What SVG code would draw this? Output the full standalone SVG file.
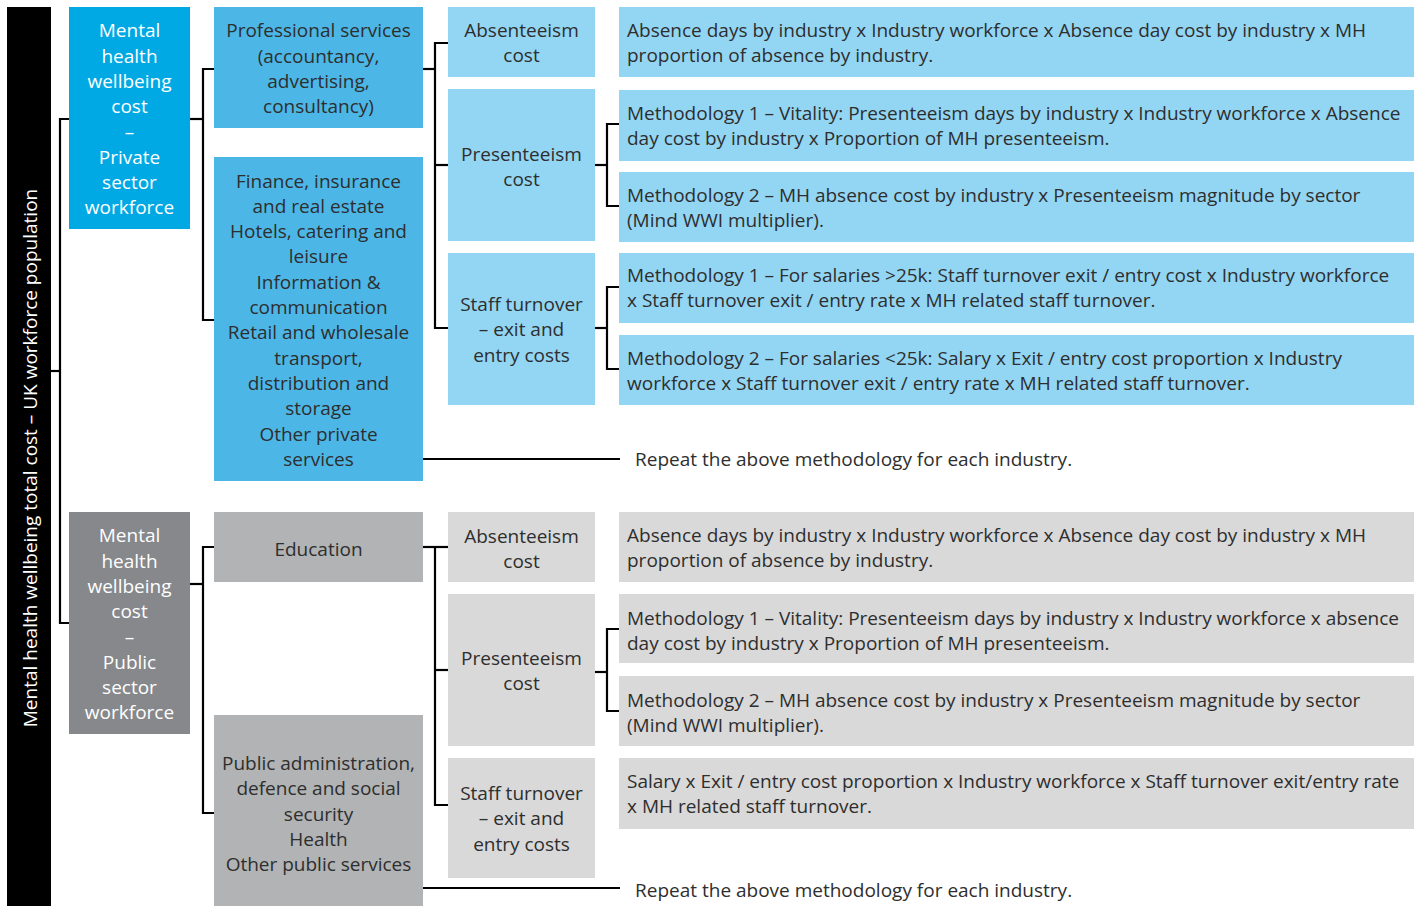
<svg xmlns="http://www.w3.org/2000/svg" width="1419" height="906" viewBox="0 0 1419 906">
  <style>
    text { font-family: "Open Sans", "Noto Sans", "Liberation Sans", sans-serif; font-size: 19px; fill: #2e2e2e; }
    .c { text-anchor: middle; }
    .w { fill: #ffffff; }
    .sector-priv { fill: #00a9e3; }
    .ind-priv { fill: #4cb7e7; }
    .cost-priv { fill: #93d6f4; }
    .sector-pub { fill: #86888b; }
    .ind-pub { fill: #b1b3b4; }
    .cost-pub { fill: #d9d9d9; }
    .conn path { fill: none; stroke: #000000; stroke-width: 2.2; stroke-linejoin: miter; }
  </style>

  <!-- Title bar -->
  <g id="title">
    <rect x="7" y="7" width="44" height="899" fill="#000000"/>
    <text class="c w" transform="translate(36.5,458) rotate(-90)">Mental health wellbeing total cost – UK workforce population</text>
  </g>

  <!-- Connectors -->
  <g class="conn" id="connectors">
    <path d="M51,371 H60"/>
    <path d="M69,119 H60 V623 H69"/>
    <!-- private sector -->
    <path d="M190,119 H203"/>
    <path d="M214,69 H203 V320 H214"/>
    <path d="M423,69 H435"/>
    <path d="M448,43 H435 V328 H448"/>
    <path d="M435,165 H448"/>
    <path d="M595,165 H607"/>
    <path d="M619,124 H607 V206 H619"/>
    <path d="M595,328 H607"/>
    <path d="M619,287 H607 V369 H619"/>
    <path d="M423,459 H620"/>
    <!-- public sector -->
    <path d="M190,584 H203"/>
    <path d="M214,547 H203 V813 H214"/>
    <path d="M423,547 H448"/>
    <path d="M435,547 V805 H448"/>
    <path d="M435,670 H448"/>
    <path d="M595,672 H607"/>
    <path d="M619,629 H607 V711 H619"/>
    <path d="M423,888 H620"/>
  </g>

  <!-- Private sector -->
  <g id="private-sector">
    <rect class="sector-priv" x="69" y="7" width="121" height="222"/>
    <text class="c w" x="129.5" y="37.3">Mental</text>
    <text class="c w" x="129.5" y="62.6">health</text>
    <text class="c w" x="129.5" y="87.9">wellbeing</text>
    <text class="c w" x="129.5" y="113.2">cost</text>
    <text class="c w" x="129.5" y="138.5">–</text>
    <text class="c w" x="129.5" y="163.8">Private</text>
    <text class="c w" x="129.5" y="189.1">sector</text>
    <text class="c w" x="129.5" y="214.4">workforce</text>
  </g>

  <g id="professional-services">
    <rect class="ind-priv" x="214" y="7" width="209" height="121"/>
    <text class="c" x="318.5" y="37.3">Professional services</text>
    <text class="c" x="318.5" y="62.6">(accountancy,</text>
    <text class="c" x="318.5" y="87.9">advertising,</text>
    <text class="c" x="318.5" y="113.2">consultancy)</text>
  </g>

  <g id="other-private-industries">
    <rect class="ind-priv" x="214" y="157" width="209" height="324"/>
    <text class="c" x="318.5" y="187.5">Finance, insurance</text>
    <text class="c" x="318.5" y="212.8">and real estate</text>
    <text class="c" x="318.5" y="238.1">Hotels, catering and</text>
    <text class="c" x="318.5" y="263.4">leisure</text>
    <text class="c" x="318.5" y="288.7">Information &amp;</text>
    <text class="c" x="318.5" y="314">communication</text>
    <text class="c" x="318.5" y="339.3">Retail and wholesale</text>
    <text class="c" x="318.5" y="364.6">transport,</text>
    <text class="c" x="318.5" y="389.9">distribution and</text>
    <text class="c" x="318.5" y="415.2">storage</text>
    <text class="c" x="318.5" y="440.5">Other private</text>
    <text class="c" x="318.5" y="465.8">services</text>
  </g>

  <g id="priv-absenteeism">
    <rect class="cost-priv" x="448" y="7" width="147" height="70"/>
    <text class="c" x="521.5" y="37">Absenteeism</text>
    <text class="c" x="521.5" y="62.3">cost</text>
  </g>
  <g id="priv-presenteeism">
    <rect class="cost-priv" x="448" y="89" width="147" height="152"/>
    <text class="c" x="521.5" y="160.5">Presenteeism</text>
    <text class="c" x="521.5" y="185.8">cost</text>
  </g>
  <g id="priv-turnover">
    <rect class="cost-priv" x="448" y="253" width="147" height="152"/>
    <text class="c" x="521.5" y="311">Staff turnover</text>
    <text class="c" x="521.5" y="336.3">– exit and</text>
    <text class="c" x="521.5" y="361.6">entry costs</text>
  </g>

  <g id="priv-absence-method">
    <rect class="cost-priv" x="619" y="7" width="795" height="70"/>
    <text x="627" y="37">Absence days by industry x Industry workforce x Absence day cost by industry x MH</text>
    <text x="627" y="62.3">proportion of absence by industry.</text>
  </g>
  <g id="priv-presenteeism-m1">
    <rect class="cost-priv" x="619" y="90" width="795" height="71"/>
    <text x="627" y="120">Methodology 1 – Vitality: Presenteeism days by industry x Industry workforce x Absence</text>
    <text x="627" y="145.3">day cost by industry x Proportion of MH presenteeism.</text>
  </g>
  <g id="priv-presenteeism-m2">
    <rect class="cost-priv" x="619" y="172" width="795" height="70"/>
    <text x="627" y="202">Methodology 2 – MH absence cost by industry x Presenteeism magnitude by sector</text>
    <text x="627" y="227.3">(Mind WWI multiplier).</text>
  </g>
  <g id="priv-turnover-m1">
    <rect class="cost-priv" x="619" y="253" width="795" height="70"/>
    <text x="627" y="282">Methodology 1 – For salaries &gt;25k: Staff turnover exit / entry cost x Industry workforce</text>
    <text x="627" y="307.3">x Staff turnover exit / entry rate x MH related staff turnover.</text>
  </g>
  <g id="priv-turnover-m2">
    <rect class="cost-priv" x="619" y="335" width="795" height="70"/>
    <text x="627" y="364.5">Methodology 2 – For salaries &lt;25k: Salary x Exit / entry cost proportion x Industry</text>
    <text x="627" y="389.8">workforce x Staff turnover exit / entry rate x MH related staff turnover.</text>
  </g>
  <g id="priv-repeat">
    <text x="635" y="465.5">Repeat the above methodology for each industry.</text>
  </g>

  <!-- Public sector -->
  <g id="public-sector">
    <rect class="sector-pub" x="69" y="512" width="121" height="222"/>
    <text class="c w" x="129.5" y="542.3">Mental</text>
    <text class="c w" x="129.5" y="567.6">health</text>
    <text class="c w" x="129.5" y="592.9">wellbeing</text>
    <text class="c w" x="129.5" y="618.2">cost</text>
    <text class="c w" x="129.5" y="643.5">–</text>
    <text class="c w" x="129.5" y="668.8">Public</text>
    <text class="c w" x="129.5" y="694.1">sector</text>
    <text class="c w" x="129.5" y="719.4">workforce</text>
  </g>

  <g id="education">
    <rect class="ind-pub" x="214" y="512" width="209" height="70"/>
    <text class="c" x="318.5" y="555.5">Education</text>
  </g>

  <g id="other-public-industries">
    <rect class="ind-pub" x="214" y="715" width="209" height="191"/>
    <text class="c" x="318.5" y="770">Public administration,</text>
    <text class="c" x="318.5" y="795.3">defence and social</text>
    <text class="c" x="318.5" y="820.6">security</text>
    <text class="c" x="318.5" y="845.9">Health</text>
    <text class="c" x="318.5" y="871.2">Other public services</text>
  </g>

  <g id="pub-absenteeism">
    <rect class="cost-pub" x="448" y="512" width="147" height="70"/>
    <text class="c" x="521.5" y="542.5">Absenteeism</text>
    <text class="c" x="521.5" y="567.8">cost</text>
  </g>
  <g id="pub-presenteeism">
    <rect class="cost-pub" x="448" y="594" width="147" height="152"/>
    <text class="c" x="521.5" y="665">Presenteeism</text>
    <text class="c" x="521.5" y="690.3">cost</text>
  </g>
  <g id="pub-turnover">
    <rect class="cost-pub" x="448" y="758" width="147" height="120"/>
    <text class="c" x="521.5" y="800">Staff turnover</text>
    <text class="c" x="521.5" y="825.3">– exit and</text>
    <text class="c" x="521.5" y="850.6">entry costs</text>
  </g>

  <g id="pub-absence-method">
    <rect class="cost-pub" x="619" y="512" width="795" height="70"/>
    <text x="627" y="542">Absence days by industry x Industry workforce x Absence day cost by industry x MH</text>
    <text x="627" y="567.3">proportion of absence by industry.</text>
  </g>
  <g id="pub-presenteeism-m1">
    <rect class="cost-pub" x="619" y="594" width="795" height="69"/>
    <text x="627" y="624.5">Methodology 1 – Vitality: Presenteeism days by industry x Industry workforce x absence</text>
    <text x="627" y="649.8">day cost by industry x Proportion of MH presenteeism.</text>
  </g>
  <g id="pub-presenteeism-m2">
    <rect class="cost-pub" x="619" y="676" width="795" height="70"/>
    <text x="627" y="706.5">Methodology 2 – MH absence cost by industry x Presenteeism magnitude by sector</text>
    <text x="627" y="731.8">(Mind WWI multiplier).</text>
  </g>
  <g id="pub-turnover-method">
    <rect class="cost-pub" x="619" y="758" width="795" height="71"/>
    <text x="627" y="787.5">Salary x Exit / entry cost proportion x Industry workforce x Staff turnover exit/entry rate</text>
    <text x="627" y="812.8">x MH related staff turnover.</text>
  </g>
  <g id="pub-repeat">
    <text x="635" y="896.5">Repeat the above methodology for each industry.</text>
  </g>
</svg>
